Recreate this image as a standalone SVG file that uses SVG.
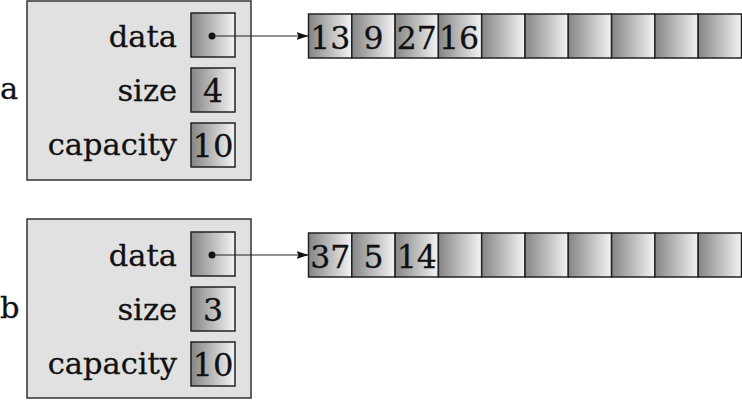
<svg xmlns="http://www.w3.org/2000/svg" width="742" height="400" viewBox="0 0 742 400">
<defs>
<linearGradient id="g" x1="0" y1="0" x2="1" y2="0">
<stop offset="0" stop-color="#858585"/>
<stop offset="1" stop-color="#f4f4f4"/>
</linearGradient>
<marker id="ah" viewBox="0 0 12 10" refX="12" refY="5" markerWidth="12" markerHeight="10" markerUnits="userSpaceOnUse" orient="auto">
<path d="M0,1 L12,5 L0,9 L2,5 Z" fill="#111"/>
</marker>
<g id="cells">
<rect class="cell" x="0" y="0" width="43.3" height="44"/>
<rect class="cell" x="43.3" y="0" width="43.3" height="44"/>
<rect class="cell" x="86.6" y="0" width="43.3" height="44"/>
<rect class="cell" x="129.9" y="0" width="43.3" height="44"/>
<rect class="cell" x="173.2" y="0" width="43.3" height="44"/>
<rect class="cell" x="216.5" y="0" width="43.3" height="44"/>
<rect class="cell" x="259.8" y="0" width="43.3" height="44"/>
<rect class="cell" x="303.1" y="0" width="43.3" height="44"/>
<rect class="cell" x="346.4" y="0" width="43.3" height="44"/>
<rect class="cell" x="389.7" y="0" width="43.3" height="44"/>
</g>
</defs>
<style>
.outer{fill:#e1e1e1;stroke:#333;stroke-width:1.5}
.cell{fill:url(#g);stroke:#222;stroke-width:1.5}
text{font-family:"DejaVu Serif","Liberation Serif",serif;font-size:30.5px;fill:#111;stroke:#111;stroke-width:0.3}
.lbl{text-anchor:end}
.num{text-anchor:middle;font-size:31.5px}
.conn{stroke:#222;stroke-width:1;fill:none}
</style>

<g id="vec-a">
<text x="0" y="99">a</text>
<rect class="outer" x="27" y="1" width="224" height="179"/>
<text class="lbl" x="177" y="47">data</text>
<text class="lbl" x="177" y="101">size</text>
<text class="lbl" x="177" y="155">capacity</text>
<rect class="cell" x="191" y="13" width="44" height="44"/>
<circle cx="212" cy="36" r="3.5" fill="#111"/>
<rect class="cell" x="191" y="68" width="44" height="44"/>
<text class="num" x="213" y="102">4</text>
<rect class="cell" x="191" y="123" width="44" height="44"/>
<text class="num" x="213" y="157" textLength="41" lengthAdjust="spacingAndGlyphs">10</text>
</g>

<g id="array-a">
<use href="#cells" x="308.5" y="14"/>
<text class="num" x="330.2" y="49">13</text>
<text class="num" x="373.5" y="49">9</text>
<text class="num" x="416.8" y="49">27</text>
<text class="num" x="459" y="49">16</text>
</g>

<g id="vec-b">
<text x="0" y="318">b</text>
<rect class="outer" x="27" y="219" width="224" height="179"/>
<text class="lbl" x="177" y="266">data</text>
<text class="lbl" x="177" y="320">size</text>
<text class="lbl" x="177" y="374">capacity</text>
<rect class="cell" x="191" y="232" width="44" height="44"/>
<circle cx="212" cy="255" r="3.5" fill="#111"/>
<rect class="cell" x="191" y="287" width="44" height="44"/>
<text class="num" x="213" y="321">3</text>
<rect class="cell" x="191" y="342" width="44" height="44"/>
<text class="num" x="213" y="376" textLength="41" lengthAdjust="spacingAndGlyphs">10</text>
</g>

<g id="array-b">
<use href="#cells" x="308.5" y="233"/>
<text class="num" x="330.2" y="268">37</text>
<text class="num" x="373.5" y="268">5</text>
<text class="num" x="416.8" y="268">14</text>
</g>

<g id="connectors">
<line class="conn" x1="212" y1="36" x2="308.5" y2="36" marker-end="url(#ah)"/>
<line class="conn" x1="212" y1="255" x2="308.5" y2="255" marker-end="url(#ah)"/>
</g>
</svg>
